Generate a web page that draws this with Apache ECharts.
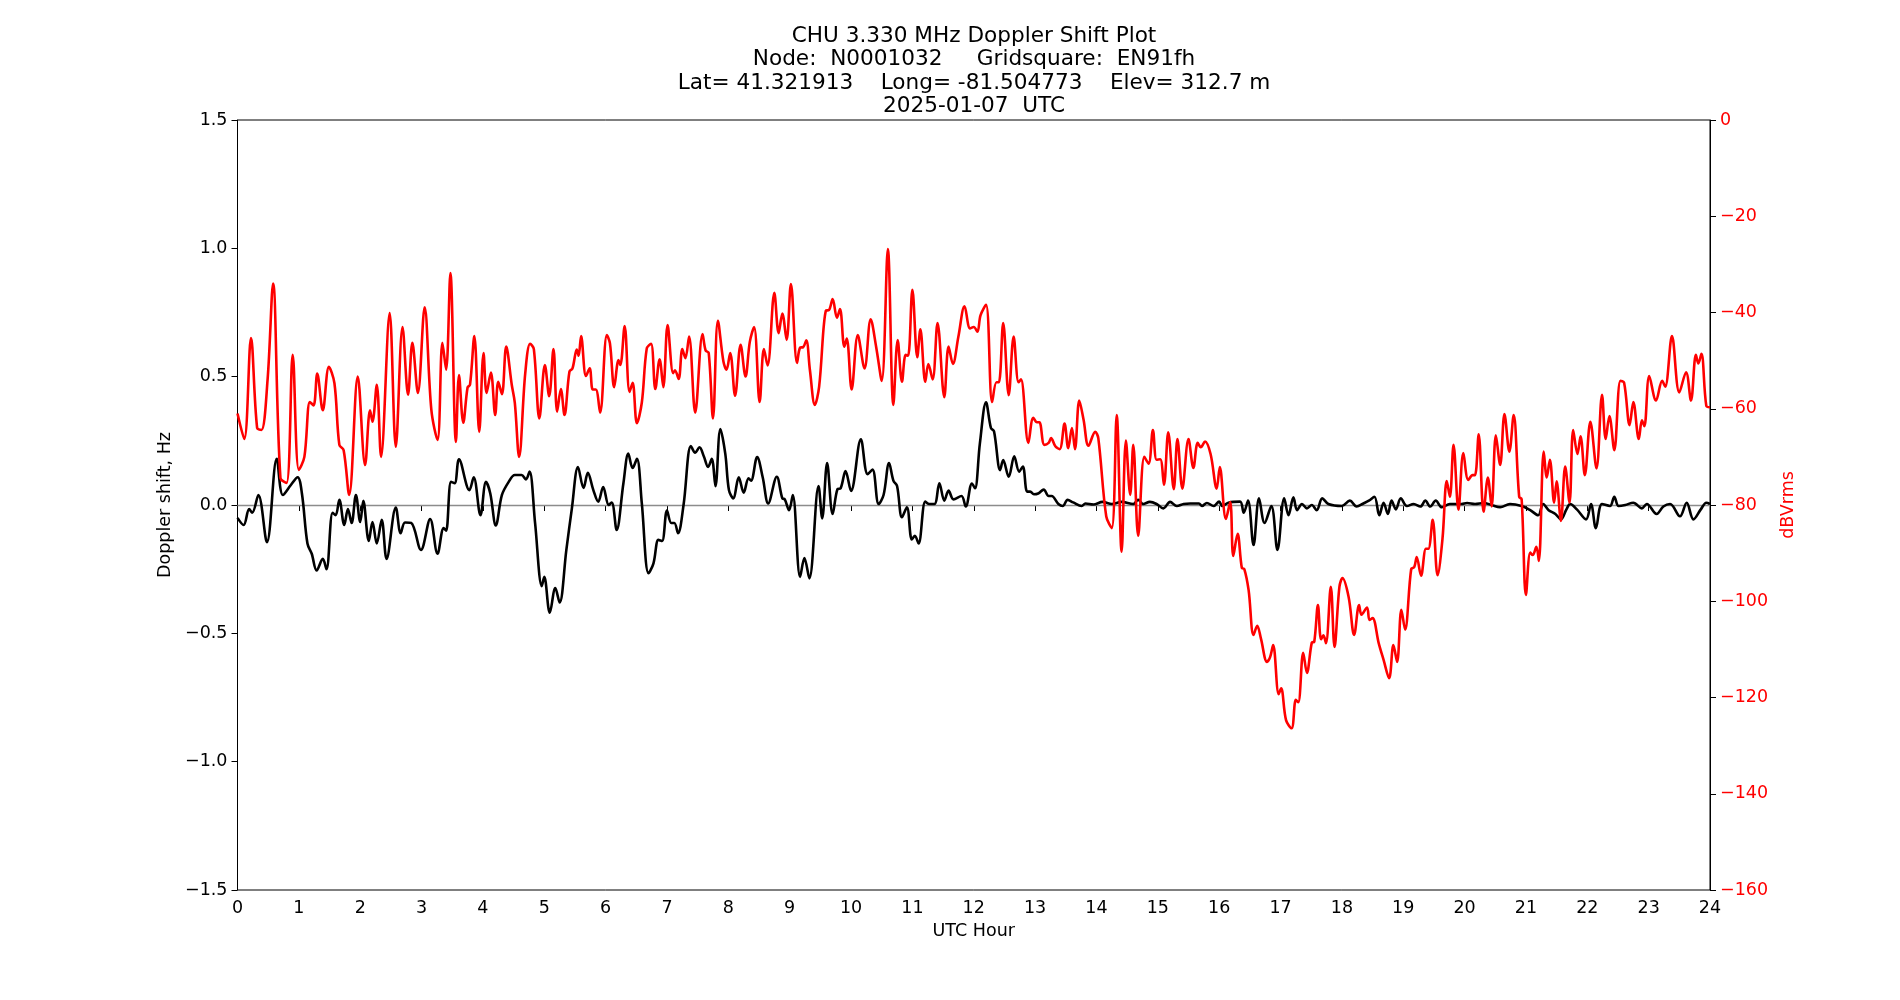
<!DOCTYPE html>
<html>
<head>
<meta charset="utf-8">
<title>CHU 3.330 MHz Doppler Shift Plot</title>
<script src="https://cdn.jsdelivr.net/npm/echarts@6/dist/echarts.min.js"></script>
<style>
  html, body { margin: 0; padding: 0; background: #fff; }
  #main { width: 1900px; height: 1000px; }
</style>
</head>
<body>
<div id="main"></div>
<script>
// doppler shift (Hz) vs UTC hour
var dopplerPts = [
  [0.00,-0.05],[0.10,-0.078],[0.19,-0.016],[0.24,-0.03],[0.34,0.039],[0.48,-0.145],[0.64,0.18],[0.74,0.039],
  [0.87,0.078],[0.98,0.108],[1.05,0.045],[1.14,-0.15],[1.21,-0.19],[1.29,-0.255],[1.39,-0.21],[1.45,-0.25],
  [1.55,-0.03],[1.60,-0.04],[1.66,0.02],[1.74,-0.078],[1.80,-0.016],[1.86,-0.07],[1.93,0.039],[2.00,-0.066],
  [2.05,0.016],[2.14,-0.14],[2.20,-0.066],[2.27,-0.15],[2.35,-0.058],[2.43,-0.21],[2.58,-0.01],[2.66,-0.11],
  [2.73,-0.068],[2.83,-0.07],[2.99,-0.175],[3.14,-0.055],[3.26,-0.19],[3.36,-0.09],[3.40,-0.1],[3.48,0.09],
  [3.54,0.085],[3.61,0.178],[3.78,0.058],[3.85,0.108],[3.96,-0.04],[4.05,0.09],[4.12,0.045],[4.21,-0.08],
  [4.31,0.039],[4.42,0.09],[4.52,0.117],[4.63,0.117],[4.70,0.1],[4.76,0.13],[4.85,-0.07],[4.96,-0.316],
  [5.00,-0.28],[5.09,-0.42],[5.18,-0.324],[5.25,-0.38],[5.36,-0.175],[5.45,-0.013],[5.55,0.148],[5.64,0.066],
  [5.71,0.125],[5.80,0.058],[5.88,0.013],[5.96,0.07],[6.05,0.0],[6.10,0.01],[6.18,-0.097],[6.29,0.085],
  [6.37,0.2],[6.44,0.144],[6.51,0.18],[6.59,0.006],[6.70,-0.266],[6.78,-0.227],[6.86,-0.136],[6.92,-0.14],
  [7.00,-0.022],[7.07,-0.07],[7.12,-0.07],[7.18,-0.11],[7.27,0.0],[7.39,0.23],[7.46,0.204],[7.53,0.225],
  [7.60,0.19],[7.67,0.148],[7.73,0.18],[7.79,0.073],[7.87,0.296],[7.95,0.2],[8.01,0.058],[8.08,0.026],
  [8.17,0.108],[8.25,0.048],[8.33,0.104],[8.37,0.095],[8.47,0.187],[8.56,0.108],[8.65,0.006],[8.79,0.11],
  [8.88,0.026],[8.92,0.022],[8.99,-0.02],[9.05,0.039],[9.17,-0.28],[9.24,-0.207],[9.32,-0.286],[9.47,0.074],
  [9.53,-0.052],[9.61,0.163],[9.70,-0.035],[9.78,0.062],[9.83,0.065],[9.91,0.132],[10.00,0.055],[10.16,0.256],
  [10.27,0.12],[10.35,0.138],[10.45,0.004],[10.53,0.039],[10.62,0.163],[10.69,0.095],[10.75,0.074],[10.83,-0.048],
  [10.91,-0.009],[10.99,-0.134],[11.04,-0.12],[11.10,-0.15],[11.21,0.013],[11.27,0.004],[11.36,0.004],[11.44,0.085],
  [11.52,0.017],[11.59,0.056],[11.67,0.022],[11.80,0.035],[11.87,-0.006],[11.97,0.084],[12.02,0.065],[12.10,0.24],
  [12.20,0.4],[12.28,0.3],[12.33,0.287],[12.43,0.136],[12.48,0.175],[12.57,0.11],[12.66,0.19],[12.74,0.13],
  [12.80,0.15],[12.87,0.052],[12.92,0.052],[12.98,0.042],[13.05,0.045],[13.14,0.06],[13.22,0.035],[13.27,0.035],
  [13.38,0.004],[13.45,-0.004],[13.53,0.02],[13.62,0.01],[13.76,-0.004],[13.82,0.006],[13.95,0.002],[14.10,0.012],
  [14.25,0.004],[14.41,0.012],[14.60,0.004],[14.68,0.02],[14.76,0.004],[14.87,0.012],[14.98,0.004],[15.09,-0.013],
  [15.20,0.012],[15.31,-0.004],[15.42,0.004],[15.53,0.006],[15.67,0.006],[15.72,-0.004],[15.80,0.008],[15.91,-0.004],
  [16.00,0.013],[16.05,-0.004],[16.15,0.009],[16.34,0.013],[16.40,-0.03],[16.47,0.017],[16.56,-0.156],[16.65,0.026],
  [16.74,-0.07],[16.85,-0.004],[16.95,-0.175],[17.06,0.026],[17.13,-0.04],[17.21,0.03],[17.27,-0.02],[17.35,0.004],
  [17.43,-0.013],[17.51,0.0],[17.59,-0.02],[17.68,0.026],[17.78,0.004],[18.00,-0.004],[18.13,0.017],[18.24,-0.006],
  [18.35,0.006],[18.44,0.017],[18.53,0.032],[18.61,-0.04],[18.68,0.009],[18.75,-0.035],[18.81,0.017],[18.88,-0.017],
  [18.96,0.026],[19.06,-0.004],[19.17,0.004],[19.28,-0.006],[19.36,0.017],[19.44,-0.006],[19.53,0.017],[19.63,-0.009],
  [19.76,0.004],[19.95,0.004],[20.04,0.008],[20.17,0.004],[20.31,0.008],[20.44,0.0],[20.58,-0.009],[20.74,0.004],
  [20.93,-0.004],[21.07,-0.02],[21.20,-0.04],[21.28,0.004],[21.37,-0.02],[21.48,-0.035],[21.57,-0.056],[21.66,-0.017],
  [21.72,0.004],[21.83,-0.017],[21.98,-0.056],[22.06,0.004],[22.14,-0.09],[22.24,0.004],[22.37,-0.004],[22.44,0.032],
  [22.51,-0.004],[22.62,0.0],[22.75,0.009],[22.89,-0.013],[22.97,0.004],[23.13,-0.035],[23.24,-0.006],[23.35,0.004],
  [23.51,-0.044],[23.62,0.009],[23.73,-0.056],[23.85,-0.017],[23.94,0.009],[24.00,0.004]
];

// signal level (dBVrms) vs UTC hour
var powerPts = [
  [0.00,-61],[0.11,-66.3],[0.22,-45.3],[0.32,-64],[0.39,-64.4],[0.49,-54],[0.58,-34],[0.70,-74.4],
  [0.80,-75.4],[0.90,-48.8],[1.00,-72.7],[1.09,-70],[1.18,-58.6],[1.24,-59.3],[1.30,-52.7],[1.39,-60.3],
  [1.49,-51.3],[1.58,-54.7],[1.66,-67.5],[1.73,-68.6],[1.82,-77.9],[1.96,-53.3],[2.08,-71.7],[2.16,-60.3],
  [2.20,-62.7],[2.27,-55.0],[2.34,-70],[2.48,-40.1],[2.58,-67.9],[2.69,-43],[2.78,-57.1],[2.85,-46.3],
  [2.94,-56.7],[3.05,-38.9],[3.16,-60.3],[3.26,-66.5],[3.34,-46.3],[3.40,-51.9],[3.47,-31.8],[3.56,-66.9],
  [3.61,-53],[3.68,-62.9],[3.75,-55.6],[3.79,-55],[3.86,-44.9],[3.94,-64.8],[4.01,-48.4],[4.06,-56.7],
  [4.13,-52.5],[4.20,-61.3],[4.25,-54.4],[4.31,-57],[4.38,-47.1],[4.47,-55],[4.52,-58.8],[4.59,-70],
  [4.69,-52.6],[4.77,-46.5],[4.83,-47.6],[4.92,-62],[5.01,-50.9],[5.08,-57.4],[5.15,-47.6],[5.21,-60.6],
  [5.27,-55.9],[5.33,-61.3],[5.41,-52.3],[5.46,-51.6],[5.53,-47.7],[5.56,-49],[5.60,-44.9],[5.68,-53.2],
  [5.74,-51.6],[5.79,-56],[5.84,-56],[5.91,-60.8],[6.02,-44.7],[6.07,-46.4],[6.14,-55.5],[6.21,-49.9],
  [6.24,-50.9],[6.31,-42.8],[6.39,-56.5],[6.44,-54.6],[6.51,-63],[6.59,-58.7],[6.67,-47.5],[6.74,-46.5],
  [6.81,-55.9],[6.88,-49.7],[6.94,-55.5],[7.01,-42.6],[7.10,-52.6],[7.13,-52],[7.19,-53.8],[7.25,-47.6],
  [7.30,-49.5],[7.36,-45],[7.46,-60.8],[7.58,-44.5],[7.63,-47.9],[7.68,-48.4],[7.75,-62],[7.83,-41.7],
  [7.92,-50.2],[7.97,-51.9],[8.03,-48.4],[8.11,-57.3],[8.20,-46.7],[8.28,-53.3],[8.35,-46.1],[8.42,-43],
  [8.51,-58.6],[8.58,-47.6],[8.64,-51],[8.75,-35.9],[8.82,-44.3],[8.88,-40.2],[8.95,-45.7],[9.02,-34.1],
  [9.12,-50.5],[9.17,-47.3],[9.22,-47.2],[9.27,-45.8],[9.33,-52],[9.41,-59.2],[9.48,-55.4],[9.59,-39.6],
  [9.64,-39.5],[9.70,-37.2],[9.77,-41.1],[9.82,-39.3],[9.89,-47.1],[9.93,-45.4],[10.01,-56],[10.11,-44.7],
  [10.22,-51.6],[10.32,-41.4],[10.41,-47.2],[10.50,-54.2],[10.60,-26.8],[10.69,-59.2],[10.76,-45.7],[10.83,-54.4],
  [10.89,-48.8],[10.93,-49],[11.00,-35.3],[11.08,-49.3],[11.13,-43.5],[11.21,-54.4],[11.26,-50.7],[11.33,-53.9],
  [11.41,-42.2],[11.52,-57.6],[11.59,-47.1],[11.66,-50.7],[11.75,-45],[11.85,-38.7],[11.94,-43.3],[12.00,-43],
  [12.06,-44],[12.11,-40.6],[12.20,-38.4],[12.30,-58.6],[12.37,-54.5],[12.41,-54.5],[12.48,-42.2],[12.57,-57.2],
  [12.65,-45],[12.73,-54.5],[12.77,-53.9],[12.89,-67.1],[12.97,-61.9],[13.03,-62.8],[13.07,-62.8],[13.15,-67.5],
  [13.22,-67.1],[13.26,-66.1],[13.33,-67.8],[13.40,-68.4],[13.48,-63.1],[13.54,-68.2],[13.60,-64],[13.65,-68.4],
  [13.72,-58.3],[13.79,-62.3],[13.87,-67.7],[13.98,-64.8],[14.03,-66.1],[14.16,-82.4],[14.25,-84.8],[14.33,-61.3],
  [14.41,-89.7],[14.48,-66.6],[14.55,-77.9],[14.60,-67.5],[14.68,-86.4],[14.78,-70],[14.85,-71.4],[14.92,-64.4],
  [14.98,-70.6],[15.04,-70.5],[15.10,-75.8],[15.17,-64.9],[15.26,-76.7],[15.32,-66.3],[15.40,-76.6],[15.50,-66.3],
  [15.58,-72.3],[15.65,-67.1],[15.70,-68],[15.77,-66.8],[15.86,-69.4],[15.96,-76.6],[16.01,-72.1],[16.11,-82.9],
  [16.18,-79.4],[16.23,-90.6],[16.30,-86],[16.37,-93.1],[16.41,-93.3],[16.48,-97.7],[16.56,-107],[16.62,-105.1],
  [16.68,-107.7],[16.78,-112.6],[16.83,-111.6],[16.88,-109.1],[16.97,-119.3],[17.01,-118.1],[17.09,-124.7],[17.18,-126.4],
  [17.25,-120.5],[17.29,-121],[17.37,-110.7],[17.43,-114.9],[17.51,-108.6],[17.55,-108.4],[17.61,-100.8],[17.66,-107.9],
  [17.70,-107.1],[17.74,-108.7],[17.82,-97],[17.88,-109.5],[17.96,-97],[18.01,-95.2],[18.11,-99.1],[18.20,-107],
  [18.28,-100.8],[18.32,-102.8],[18.41,-101.3],[18.45,-103.9],[18.50,-103.5],[18.60,-108.7],[18.68,-112.2],[18.77,-116],
  [18.84,-109.1],[18.90,-112.6],[18.97,-101.8],[19.03,-105.9],[19.13,-93.3],[19.18,-92.9],[19.22,-90.8],[19.29,-94.7],
  [19.37,-89.1],[19.41,-89.1],[19.48,-83.1],[19.56,-94.6],[19.64,-87],[19.71,-75],[19.76,-78.3],[19.82,-67.5],
  [19.90,-81],[19.98,-69.2],[20.06,-74.8],[20.13,-73.8],[20.17,-73.8],[20.23,-65.3],[20.31,-81.4],[20.38,-74.3],
  [20.44,-80.3],[20.51,-65.5],[20.58,-71.7],[20.65,-61.1],[20.73,-68.9],[20.80,-61.3],[20.89,-78.3],[20.93,-78.8],
  [21.00,-98.7],[21.07,-89.9],[21.11,-90.4],[21.17,-88.7],[21.21,-91.6],[21.29,-68.9],[21.34,-74.3],[21.39,-70.6],
  [21.46,-79.5],[21.50,-75.1],[21.57,-83.3],[21.64,-72],[21.71,-79.5],[21.77,-64.4],[21.84,-69.4],[21.89,-65.7],
  [21.96,-73.8],[22.05,-62.7],[22.15,-72.4],[22.24,-57.1],[22.30,-66.3],[22.36,-61.5],[22.44,-68.6],[22.54,-54.2],
  [22.60,-54.6],[22.69,-63.4],[22.75,-58.6],[22.84,-66.3],[22.89,-62.4],[22.93,-63.6],[23.01,-53.2],[23.12,-58.3],
  [23.22,-54.2],[23.27,-55.4],[23.38,-44.9],[23.50,-56.6],[23.61,-52.4],[23.69,-58.3],[23.77,-48.8],[23.81,-50.6],
  [23.86,-48.6],[23.94,-59.4],[24.00,-59.7]
];

var titleLines = [
  'CHU 3.330 MHz Doppler Shift Plot',
  'Node:  N0001032     Gridsquare:  EN91fh',
  'Lat= 41.321913    Long= -81.504773    Elev= 312.7 m',
  '2025-01-07  UTC'
];

var FONT = 'DejaVu Sans';
var TICK_PX = 17.5;

// matplotlib style minus sign
function mpl(v) {
  return String(v).replace('-', '\u2212');
}

var chart = echarts.init(document.getElementById('main'), null, {renderer: 'canvas'});

var option = {
  animation: false,
  backgroundColor: '#fff',
  textStyle: {fontFamily: FONT},
  graphic: [{
    type: 'text',
    x: 974,
    y: 25,
    style: {
      text: titleLines.join('\n'),
      font: '21.6px "DejaVu Sans"',
      lineHeight: 23.2,
      align: 'center',
      fill: '#000'
    }
  }],
  grid: {
    left: 237.5,
    right: 190,
    top: 120,
    bottom: 110,
    show: true,
    borderColor: '#000',
    borderWidth: 1,
    backgroundColor: 'transparent'
  },
  xAxis: {
    type: 'value',
    min: 0,
    max: 24,
    interval: 1,
    name: 'UTC Hour',
    nameLocation: 'middle',
    nameGap: 32,
    nameTextStyle: {fontSize: TICK_PX, color: '#000', fontFamily: FONT},
    axisLine: {lineStyle: {color: '#000', width: 1}},
    axisTick: {inside: false, length: 6, lineStyle: {color: '#000'}},
    axisLabel: {fontSize: TICK_PX, color: '#000', margin: 9, fontFamily: FONT},
    splitLine: {show: false}
  },
  yAxis: [{
    type: 'value',
    min: -1.5,
    max: 1.5,
    interval: 0.5,
    name: 'Doppler shift, Hz',
    nameLocation: 'middle',
    nameGap: 62,
    nameTextStyle: {fontSize: TICK_PX, color: '#000', fontFamily: FONT},
    axisLine: {show: true, lineStyle: {color: '#000', width: 1}},
    axisTick: {show: true, inside: false, length: 6, lineStyle: {color: '#000'}},
    axisLabel: {
      fontSize: TICK_PX, color: '#000', margin: 10, fontFamily: FONT,
      formatter: function (v) { return mpl(v.toFixed(1)); }
    },
    splitLine: {show: false}
  }, {
    type: 'value',
    min: -160,
    max: 0,
    interval: 20,
    position: 'right',
    name: 'dBVrms',
    nameLocation: 'middle',
    nameGap: 64,
    nameTextStyle: {fontSize: TICK_PX, color: '#ff0000', fontFamily: FONT},
    axisLine: {show: true, lineStyle: {color: '#000', width: 1}},
    axisTick: {show: true, inside: false, length: 6, lineStyle: {color: '#000'}},
    axisLabel: {
      fontSize: TICK_PX, color: '#ff0000', margin: 10, fontFamily: FONT,
      formatter: function (v) { return mpl(v); }
    },
    splitLine: {show: false}
  }],
  series: [{
    name: 'Doppler',
    type: 'line',
    yAxisIndex: 0,
    data: dopplerPts,
    showSymbol: false,
    smooth: 0.35,
    z: 3,
    lineStyle: {color: '#000', width: 2.6},
    markLine: {
      silent: true,
      symbol: 'none',
      label: {show: false},
      lineStyle: {color: '#8c8c8c', width: 1.4, type: 'solid'},
      data: [{yAxis: 0}],
      z: 2
    }
  }, {
    name: 'dBVrms',
    type: 'line',
    yAxisIndex: 1,
    data: powerPts,
    showSymbol: false,
    smooth: 0.35,
    z: 4,
    lineStyle: {color: '#ff0000', width: 2.6}
  }]
};

chart.setOption(option);
</script>
</body>
</html>
